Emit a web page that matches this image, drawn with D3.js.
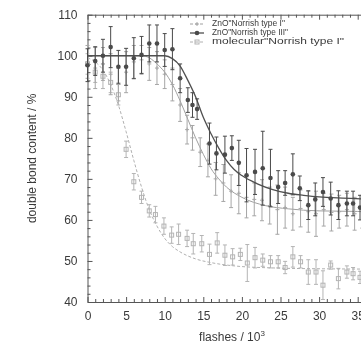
<!DOCTYPE html>
<html>
<head>
<meta charset="utf-8">
<script src="https://cdn.jsdelivr.net/npm/d3@7"></script>
<style>
  body { margin: 0; background: #fff; }
  svg { display: block; font-family: 'Liberation Sans', Arial, sans-serif; filter: blur(0.3px); }
</style>
</head>
<body>
<div id="app"></div>
<script>
// ZnO"Norrish type III" (dark)
const typeIIIx = [0, 1, 2, 3, 4, 5, 6, 7, 8, 9, 10, 11, 12, 13, 13.6, 14.2, 15.8, 16.7, 17.8, 18.7, 19.6, 20.6, 21.7, 22.7, 23.7, 24.7, 25.6, 26.6, 27.5, 28.6, 29.5, 30.5, 31.5, 32.5, 33.6, 34.4, 35.3, 36.3];
const typeIIIy = [97.7, 98.7, 100, 102.1, 97.3, 97.3, 99.4, 100.2, 103, 103, 101.4, 101.6, 94.5, 89.2, 88, 87, 78.6, 76.2, 75.9, 77.5, 73.9, 70.9, 71.7, 72.6, 70.2, 68, 69, 71.1, 67.7, 63.6, 65, 66.8, 65.2, 63.6, 64, 64, 63, 63.5];
const typeIIIerr = [4, 3.5, 4, 5, 4, 4.5, 5, 4.5, 4.5, 4.5, 4, 5, 3.5, 3, 3, 2.5, 5, 4, 4.5, 3, 5.5, 6.5, 5.5, 9, 7, 4, 3, 5, 3, 3.5, 4, 3.5, 4, 3.5, 3, 3, 3, 3];
const typeIIIfitX = [0, 10, 11, 12, 13, 14, 15, 16, 17, 18, 19, 20, 22, 24, 26, 28, 30, 33, 40];
const typeIIIfitY = [100, 100, 99.3, 97.5, 94, 90, 85, 81, 77.5, 74.5, 72.3, 70.8, 68.8, 67.4, 66.5, 66, 65.6, 65.3, 65];

// ZnO"Norrish type I" (light gray)
const typeIx = [0, 1, 2, 3, 4, 5, 6, 7, 8, 9, 10, 11, 12, 12.9, 13.6, 14.6, 15.6, 16.6, 17.6, 18.6, 19.6, 20.6, 21.6, 22.6, 23.6, 24.6, 25.6, 26.6, 27.6, 28.6, 29.6, 30.6, 31.6, 32.6, 33.6, 34.6, 35.6];
const typeIy = [98.5, 97, 98, 95.5, 93, 96, 98.5, 99, 98, 97, 95.5, 93, 88, 82, 80, 76.5, 74.5, 70, 69, 67, 66.5, 65.5, 65, 64.8, 63.5, 62.5, 63, 61.5, 62.8, 62, 61.5, 62.5, 61.8, 62, 62.5, 61.5, 62];
const typeIerr = [4, 5, 4, 5, 4, 5, 4, 3.5, 4, 4, 3.5, 4, 4, 3.5, 3, 3.5, 4, 4, 4.5, 4, 5, 5, 4, 5, 4.5, 6, 5, 4, 4.5, 5, 5.5, 4, 4.5, 4, 4, 4, 4];
const typeIfitX = [0, 7, 8, 9, 10, 11, 12, 13, 14, 15, 16, 17, 18, 20, 23, 26, 30, 40];
const typeIfitY = [100, 100, 99.5, 98, 96, 93, 89, 84.5, 80, 76, 72.5, 70, 68, 65.5, 63.5, 62.7, 62.2, 62];

// molecular"Norrish type I" (lightest)
const molX = [0, 1, 2, 3, 4, 5, 6, 7, 8, 8.8, 9.9, 10.9, 11.8, 12.9, 13.7, 14.8, 15.8, 16.8, 17.8, 18.8, 19.8, 20.7, 21.7, 22.7, 23.7, 24.7, 25.6, 26.6, 27.6, 28.6, 29.6, 30.5, 31.5, 32.5, 33.6, 34.4, 35.3];
const molY = [98, 96, 95, 93.5, 90.5, 77.2, 69.3, 65.5, 62.2, 61.3, 58.5, 56.3, 56.5, 55.5, 54.2, 54.2, 51.6, 54.4, 51.4, 51, 51.6, 49.5, 50.8, 50.2, 49.8, 49.8, 48.4, 51, 49.8, 47.3, 47.3, 44.1, 49, 45.7, 47.3, 46.9, 46];
const molErr = [2.5, 2.5, 3, 2.5, 2.5, 2, 2, 1.5, 1.5, 2, 2, 2, 2.5, 2, 2.5, 2, 2.5, 2.5, 2.5, 2, 1.5, 4.5, 2.5, 1.5, 1.5, 1.5, 1.5, 2.5, 1.5, 3, 3, 3.5, 1, 2.5, 1.5, 1.5, 1.5];
const molFitX = [0, 1, 2, 3, 4, 5, 6, 7, 8, 9, 10, 11, 12, 14, 16, 19, 24, 30, 40];
const molFitY = [99.5, 98.5, 96.5, 93, 88, 81.5, 74.5, 68, 62.5, 58.5, 55.5, 53.5, 52.2, 50.5, 49.6, 48.8, 48.3, 48.1, 48];

const xMajor = [0, 5, 10, 15, 20, 25, 30, 35, 40];
const yMajor = [40, 50, 60, 70, 80, 90, 100, 110];
const legendLabels = ['ZnO"Norrish type I"', 'ZnO"Norrish type III"', 'molecular"Norrish type I"'];

const W = 361, H = 347;
const svg = d3.select('#app').append('svg').attr('width', W).attr('height', H);

const x = d3.scaleLinear().domain([0, 40]).range([87.5, 396.3]);
const y = d3.scaleLinear().domain([40, 110]).range([302, 14.7]);

const axisColor = '#555';
const textColor = '#3a3a3a';

// axes (ticks point inward, like the original plot)
const styleAxis = (g) => {
  g.selectAll('path.domain').attr('stroke', axisColor);
  g.selectAll('line').attr('stroke', axisColor);
  g.selectAll('text').attr('fill', textColor).style('font-size', '12px');
};

svg.append('g')
  .attr('transform', `translate(${x(0)},0)`)
  .call(d3.axisLeft(y).tickValues(yMajor).tickSize(-5).tickPadding(10).tickSizeOuter(0))
  .call(styleAxis);
svg.append('g')
  .attr('transform', `translate(${x(0)},0)`)
  .call(d3.axisLeft(y).tickValues(d3.range(42, 110, 2).filter((v) => v % 10)).tickSize(-3).tickFormat(''))
  .call((g) => g.select('.domain').remove())
  .call(styleAxis);

svg.append('g')
  .attr('transform', `translate(0,${y(40)})`)
  .call(d3.axisBottom(x).tickValues(xMajor).tickSize(-5).tickPadding(9).tickSizeOuter(0))
  .call(styleAxis);
svg.append('g')
  .attr('transform', `translate(0,${y(40)})`)
  .call(d3.axisBottom(x).tickValues(d3.range(1, 40).filter((v) => v % 5)).tickSize(-3).tickFormat(''))
  .call((g) => g.select('.domain').remove())
  .call(styleAxis);

svg.append('g')
  .attr('transform', `translate(0,${y(110)})`)
  .call(d3.axisTop(x).tickValues(xMajor).tickSize(-5).tickFormat('').tickSizeOuter(0))
  .call(styleAxis);
svg.append('g')
  .attr('transform', `translate(0,${y(110)})`)
  .call(d3.axisTop(x).tickValues(d3.range(1, 40).filter((v) => v % 5)).tickSize(-3).tickFormat(''))
  .call((g) => g.select('.domain').remove())
  .call(styleAxis);

// axis titles
svg.append('text')
  .attr('transform', `translate(33,${(y(40) + y(110)) / 2}) rotate(-90)`)
  .attr('text-anchor', 'middle')
  .attr('dominant-baseline', 'middle')
  .attr('fill', textColor)
  .style('font-size', '12px')
  .text('double bond content / %');

const xTitle = svg.append('text')
  .attr('x', 232)
  .attr('y', 341)
  .attr('text-anchor', 'middle')
  .attr('fill', textColor)
  .style('font-size', '12px');
xTitle.append('tspan').text('flashes / 10');
xTitle.append('tspan').attr('dy', -5).style('font-size', '8px').text('3');

// series
const series = [
  { xs: typeIx, ys: typeIy, err: typeIerr, fx: typeIfitX, fy: typeIfitY, color: '#a6a6a6', line: '#a0a0a0', dash: null, marker: 'plus' },
  { xs: typeIIIx, ys: typeIIIy, err: typeIIIerr, fx: typeIIIfitX, fy: typeIIIfitY, color: '#4a4a4a', line: '#505050', dash: null, marker: 'dot' },
  { xs: molX, ys: molY, err: molErr, fx: molFitX, fy: molFitY, color: '#b4b4b4', line: '#b0b0b0', dash: '3,2', marker: 'square' },
];

const line = d3.line().x((d) => x(d[0])).y((d) => y(d[1])).curve(d3.curveMonotoneX);

const drawMarker = (g, kind, cx, cy, color) => {
  if (kind === 'dot') {
    g.append('circle').attr('cx', cx).attr('cy', cy).attr('r', 2.3).attr('fill', color);
  } else if (kind === 'square') {
    g.append('rect').attr('x', cx - 2).attr('y', cy - 2).attr('width', 4).attr('height', 4)
      .attr('fill', 'none').attr('stroke', color).attr('stroke-width', 1);
  } else {
    g.append('path').attr('d', `M${cx - 2},${cy}H${cx + 2}M${cx},${cy - 2}V${cy + 2}`)
      .attr('stroke', color).attr('stroke-width', 1);
  }
};

// lightest series first, dark on top
[2, 0, 1].forEach((si) => {
  const s = series[si];
  const g = svg.append('g');
  g.append('path')
    .attr('d', line(d3.zip(s.fx, s.fy)))
    .attr('fill', 'none')
    .attr('stroke', s.line)
    .attr('stroke-width', si === 1 ? 1.3 : 1)
    .attr('stroke-dasharray', s.dash);
  s.xs.forEach((xv, i) => {
    const cx = x(xv);
    const top = y(s.ys[i] + s.err[i]);
    const bot = y(s.ys[i] - s.err[i]);
    g.append('path')
      .attr('d', `M${cx},${top}V${bot}M${cx - 2},${top}H${cx + 2}M${cx - 2},${bot}H${cx + 2}`)
      .attr('stroke', s.color)
      .attr('stroke-width', 1)
      .attr('fill', 'none');
    drawMarker(g, s.marker, cx, y(s.ys[i]), s.color);
  });
});

// legend
const legendWidths = [73, 76, 132];
const legend = svg.append('g');
legendLabels.forEach((label, i) => {
  const s = series[i];
  const ly = 24 + i * 9;
  legend.append('line')
    .attr('x1', 190).attr('x2', 204).attr('y1', ly).attr('y2', ly)
    .attr('stroke', s.line).attr('stroke-width', i === 1 ? 1.3 : 1)
    .attr('stroke-dasharray', i === 1 ? null : '3,2');
  drawMarker(legend, s.marker, 197, ly, s.color);
  legend.append('text')
    .attr('x', 212).attr('y', ly)
    .attr('dominant-baseline', 'middle')
    .attr('fill', textColor)
    .style('font-size', '9px')
    .attr('textLength', legendWidths[i])
    .attr('lengthAdjust', 'spacingAndGlyphs')
    .text(label);
});
</script>
</body>
</html>
